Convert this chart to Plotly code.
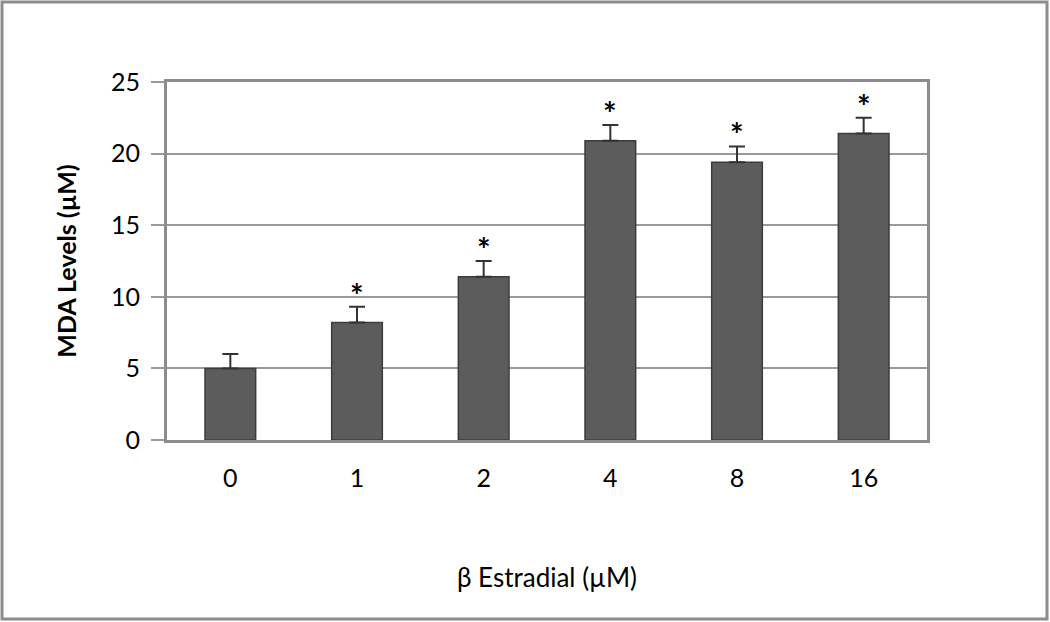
import plotly.graph_objects as go

categories = ["0", "1", "2", "4", "8", "16"]
mda_values = [5.0, 8.2, 11.4, 20.9, 19.4, 21.4]
mda_errors = [1.0, 1.1, 1.1, 1.1, 1.1, 1.1]
significant = ["", "*", "*", "*", "*", "*"]
y_ticks = [0, 5, 10, 15, 20, 25]

W, H = 1050, 622
L, R, T, B = 167, 123, 82, 182
pw, ph = W - L - R, H - T - B

FONT = "Lato, Liberation Sans, sans-serif"

fig = go.Figure()
fig.add_trace(go.Bar(
    x=categories, y=mda_values,
    width=0.40,
    marker=dict(color="#5c5c5c", line=dict(color="#3c3c3c", width=1.5)),
    error_y=dict(type="data", array=mda_errors, arrayminus=[0] * len(mda_errors),
                 symmetric=False, color="#333333", thickness=2, width=8),
    showlegend=False,
))

for i, (v, e, s) in enumerate(zip(mda_values, mda_errors, significant)):
    if s:
        fig.add_annotation(x=i, y=v + e, text="<b>" + s + "</b>", showarrow=False,
                           yanchor="bottom", yshift=-10,
                           font=dict(family=FONT, size=32, color="#000000"))

# outer border of the whole picture
def px_to_paper_x(px):
    return (px - L) / pw

def px_to_paper_y(py):
    return (H - B - py) / ph

fig.add_shape(type="rect", xref="paper", yref="paper",
              x0=px_to_paper_x(2), x1=px_to_paper_x(W - 3),
              y0=px_to_paper_y(H - 3), y1=px_to_paper_y(2),
              line=dict(color="#8c8c8c", width=3), layer="below")

fig.update_layout(
    width=W, height=H,
    margin=dict(l=L, r=R, t=T, b=B, autoexpand=False),
    paper_bgcolor="white", plot_bgcolor="white",
    font=dict(family=FONT, size=25, color="#000000"),
    xaxis=dict(
        type="category", range=[-0.5, len(categories) - 0.5],
        showline=True, linecolor="#8c8c8c", linewidth=3, mirror=True,
        ticks="", ticklabelstandoff=14,
        tickfont=dict(family=FONT, size=25, color="#000000"),
        title=dict(text="β Estradial (µM)", standoff=78,
                   font=dict(family=FONT, size=26, color="#000000")),
        automargin=False,
    ),
    yaxis=dict(
        range=[0, 25], tickvals=y_ticks,
        showline=True, linecolor="#8c8c8c", linewidth=3, mirror=True,
        showgrid=True, gridcolor="#9a9a9a", gridwidth=1.5,
        ticks="outside", ticklen=13, tickcolor="#9a9a9a", tickwidth=1.5,
        ticklabelstandoff=6,
        tickfont=dict(family=FONT, size=25, color="#000000"),
        zeroline=False,
        title=dict(text="<b>MDA Levels (µM)</b>", standoff=28,
                   font=dict(family=FONT, size=25, color="#000000")),
        automargin=False,
    ),
)

fig.write_html("out.html", config={"displayModeBar": False},
               post_script="document.body.style.margin='0';")
